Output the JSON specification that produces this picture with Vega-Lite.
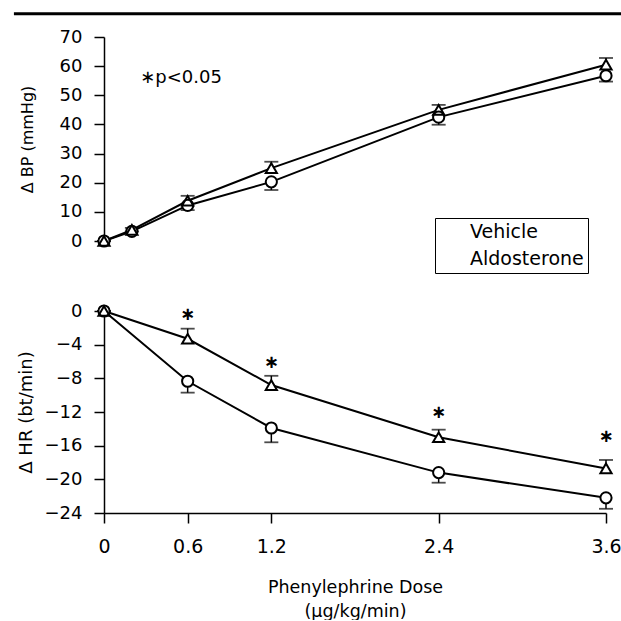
{
  "$schema": "https://vega.github.io/schema/vega-lite/v6.json",
  "padding": {"left": 12, "top": 12, "right": 0, "bottom": 0},
  "spacing": 27,
  "resolve": {"scale": {"shape": "independent"}, "legend": {"shape": "independent"}},
  "config": {
    "view": {"stroke": null},
    "font": "DejaVu Sans",
    "axis": {
      "grid": false,
      "domainColor": "black",
      "domainWidth": 1.5,
      "tickColor": "black",
      "tickWidth": 1.5,
      "labelColor": "black",
      "titleColor": "black",
      "labelFont": "DejaVu Sans",
      "titleFont": "DejaVu Sans",
      "titleFontWeight": "normal",
      "labelFlush": false,
      "labelOverlap": false
    }
  },
  "datasets": {
    "bp": [
      {"dose": 0, "group": "Vehicle", "value": 0, "err": 0},
      {"dose": 0.2, "group": "Vehicle", "value": 3.3, "err": 3.3},
      {"dose": 0.6, "group": "Vehicle", "value": 12.2, "err": 10.6},
      {"dose": 1.2, "group": "Vehicle", "value": 20.3, "err": 17.5},
      {"dose": 2.4, "group": "Vehicle", "value": 42.5, "err": 39.9},
      {"dose": 3.6, "group": "Vehicle", "value": 56.7, "err": 54.7},
      {"dose": 0, "group": "Aldosterone", "value": 0, "err": 0},
      {"dose": 0.2, "group": "Aldosterone", "value": 3.8, "err": 4.5},
      {"dose": 0.6, "group": "Aldosterone", "value": 13.8, "err": 15.5},
      {"dose": 1.2, "group": "Aldosterone", "value": 25, "err": 27.2},
      {"dose": 2.4, "group": "Aldosterone", "value": 45, "err": 46.7},
      {"dose": 3.6, "group": "Aldosterone", "value": 60.5, "err": 62.8}
    ],
    "hr": [
      {"dose": 0, "group": "Vehicle", "value": 0, "err": 0},
      {"dose": 0.6, "group": "Vehicle", "value": -8.35, "err": -9.7},
      {"dose": 1.2, "group": "Vehicle", "value": -13.9, "err": -15.6},
      {"dose": 2.4, "group": "Vehicle", "value": -19.2, "err": -20.4},
      {"dose": 3.6, "group": "Vehicle", "value": -22.2, "err": -23.5},
      {"dose": 0, "group": "Aldosterone", "value": 0, "err": 0},
      {"dose": 0.6, "group": "Aldosterone", "value": -3.3, "err": -2.1},
      {"dose": 1.2, "group": "Aldosterone", "value": -8.8, "err": -7.7},
      {"dose": 2.4, "group": "Aldosterone", "value": -15, "err": -14.1},
      {"dose": 3.6, "group": "Aldosterone", "value": -18.7, "err": -17.7}
    ],
    "sig": [
      {"dose": 0.6, "y": -0.45, "label": "∗"},
      {"dose": 1.2, "y": -6.2, "label": "∗"},
      {"dose": 2.4, "y": -12.1, "label": "∗"},
      {"dose": 3.6, "y": -15, "label": "∗"}
    ]
  },
  "vconcat": [
    {
      "width": 502,
      "height": 204,
      "layer": [
        {
          "data": {"values": [{"k": 1}]},
          "mark": {"type": "rule", "strokeWidth": 3, "color": "black"},
          "encoding": {
            "x": {"datum": -0.646, "type": "quantitative", "scale": {"domain": [0, 3.6], "nice": false, "zero": false}, "axis": null},
            "x2": {"datum": 3.72},
            "y": {"datum": 78, "type": "quantitative", "scale": {"domain": [0, 70], "nice": false},
              "axis": {"values": [0, 10, 20, 30, 40, 50, 60, 70], "title": "Δ BP (mmHg)", "titleFontSize": 16, "titleX": -69, "titleY": 102, "tickSize": 10, "labelPadding": 12, "labelFontSize": 18}}
          }
        },
        {
          "data": {"name": "bp"},
          "mark": {"type": "line", "color": "black", "strokeWidth": 2},
          "encoding": {
            "x": {"field": "dose", "type": "quantitative", "axis": null},
            "y": {"field": "value", "type": "quantitative",
              "axis": {"values": [0, 10, 20, 30, 40, 50, 60, 70], "title": "Δ BP (mmHg)", "titleFontSize": 16, "titleX": -69, "titleY": 102, "tickSize": 10, "labelPadding": 12, "labelFontSize": 18}},
            "detail": {"field": "group"}
          }
        },
        {
          "data": {"name": "bp"},
          "mark": {"type": "rule", "color": "black", "strokeWidth": 1.5},
          "encoding": {
            "x": {"field": "dose", "type": "quantitative", "axis": null},
            "y": {"field": "value", "type": "quantitative",
              "axis": {"values": [0, 10, 20, 30, 40, 50, 60, 70], "title": "Δ BP (mmHg)", "titleFontSize": 16, "titleX": -69, "titleY": 102, "tickSize": 10, "labelPadding": 12, "labelFontSize": 18}},
            "y2": {"field": "err"}
          }
        },
        {
          "data": {"name": "bp"},
          "mark": {"type": "tick", "orient": "horizontal", "color": "black", "size": 14, "thickness": 1.8},
          "encoding": {
            "x": {"field": "dose", "type": "quantitative", "axis": null},
            "y": {"field": "err", "type": "quantitative",
              "axis": {"values": [0, 10, 20, 30, 40, 50, 60, 70], "title": "Δ BP (mmHg)", "titleFontSize": 16, "titleX": -69, "titleY": 102, "tickSize": 10, "labelPadding": 12, "labelFontSize": 18}}
          }
        },
        {
          "data": {"name": "bp"},
          "mark": {"type": "point", "filled": true, "color": "white", "size": 125, "opacity": 1},
          "encoding": {
            "x": {"field": "dose", "type": "quantitative", "axis": null},
            "y": {"field": "value", "type": "quantitative",
              "axis": {"values": [0, 10, 20, 30, 40, 50, 60, 70], "title": "Δ BP (mmHg)", "titleFontSize": 16, "titleX": -69, "titleY": 102, "tickSize": 10, "labelPadding": 12, "labelFontSize": 18}},
            "shape": {"field": "group", "type": "nominal",
              "scale": {"domain": ["Vehicle", "Aldosterone"], "range": ["circle", "triangle-up"]},
              "legend": {"title": null, "orient": "none", "legendX": 331, "legendY": 181, "strokeColor": "black", "padding": 4,
                "labelFontSize": 19, "labelFont": "DejaVu Sans", "labelColor": "black", "symbolSize": 60,
                "symbolStrokeColor": "black", "symbolFillColor": "white", "symbolStrokeWidth": 1.5, "symbolOpacity": 1,
                "rowPadding": 7, "labelOffset": 12}}
          }
        },
        {
          "data": {"name": "bp"},
          "mark": {"type": "point", "filled": false, "color": "black", "strokeWidth": 2, "size": 125, "opacity": 1},
          "encoding": {
            "x": {"field": "dose", "type": "quantitative", "axis": null},
            "y": {"field": "value", "type": "quantitative",
              "axis": {"values": [0, 10, 20, 30, 40, 50, 60, 70], "title": "Δ BP (mmHg)", "titleFontSize": 16, "titleX": -69, "titleY": 102, "tickSize": 10, "labelPadding": 12, "labelFontSize": 18}},
            "shape": {"field": "group", "type": "nominal",
              "scale": {"domain": ["Vehicle", "Aldosterone"], "range": ["circle", "triangle-up"]},
              "legend": {"title": null, "orient": "none", "legendX": 331, "legendY": 181, "strokeColor": "black", "padding": 4,
                "labelFontSize": 19, "labelFont": "DejaVu Sans", "labelColor": "black", "symbolSize": 60,
                "symbolStrokeColor": "black", "symbolFillColor": "white", "symbolStrokeWidth": 1.5, "symbolOpacity": 1,
                "rowPadding": 7, "labelOffset": 12}}
          }
        },
        {
          "data": {"values": [{"dose": 0.26, "y": 56, "label": "∗p<0.05"}]},
          "mark": {"type": "text", "align": "left", "baseline": "middle", "fontSize": 18, "color": "black", "font": "DejaVu Sans"},
          "encoding": {
            "x": {"field": "dose", "type": "quantitative", "axis": null},
            "y": {"field": "y", "type": "quantitative",
              "axis": {"values": [0, 10, 20, 30, 40, 50, 60, 70], "title": "Δ BP (mmHg)", "titleFontSize": 16, "titleX": -69, "titleY": 102, "tickSize": 10, "labelPadding": 12, "labelFontSize": 18}},
            "text": {"field": "label"}
          }
        }
      ]
    },
    {
      "width": 502,
      "height": 202,
      "layer": [
        {
          "data": {"name": "hr"},
          "mark": {"type": "line", "color": "black", "strokeWidth": 2},
          "encoding": {
            "x": {"field": "dose", "type": "quantitative", "scale": {"domain": [0, 3.6], "nice": false, "zero": false},
              "axis": {"values": [0, 0.6, 1.2, 2.4, 3.6], "format": ".2~g", "title": ["Phenylephrine Dose", "(μg/kg/min)"], "titleFontSize": 17.5, "titleLineHeight": 24, "titlePadding": 22, "tickSize": 10, "labelPadding": 14, "labelFontSize": 19}},
            "y": {"field": "value", "type": "quantitative", "scale": {"domain": [-24, 0], "nice": false},
              "axis": {"values": [0, -4, -8, -12, -16, -20, -24], "title": "Δ HR (bt/min)", "titleFontSize": 18, "titleX": -69, "tickSize": 10, "labelPadding": 12, "labelFontSize": 18}},
            "detail": {"field": "group"}
          }
        },
        {
          "data": {"name": "hr"},
          "mark": {"type": "rule", "color": "black", "strokeWidth": 1.5},
          "encoding": {
            "x": {"field": "dose", "type": "quantitative",
              "axis": {"values": [0, 0.6, 1.2, 2.4, 3.6], "format": ".2~g", "title": ["Phenylephrine Dose", "(μg/kg/min)"], "titleFontSize": 17.5, "titleLineHeight": 24, "titlePadding": 22, "tickSize": 10, "labelPadding": 14, "labelFontSize": 19}},
            "y": {"field": "value", "type": "quantitative",
              "axis": {"values": [0, -4, -8, -12, -16, -20, -24], "title": "Δ HR (bt/min)", "titleFontSize": 18, "titleX": -69, "tickSize": 10, "labelPadding": 12, "labelFontSize": 18}},
            "y2": {"field": "err"}
          }
        },
        {
          "data": {"name": "hr"},
          "mark": {"type": "tick", "orient": "horizontal", "color": "black", "size": 14, "thickness": 1.8},
          "encoding": {
            "x": {"field": "dose", "type": "quantitative",
              "axis": {"values": [0, 0.6, 1.2, 2.4, 3.6], "format": ".2~g", "title": ["Phenylephrine Dose", "(μg/kg/min)"], "titleFontSize": 17.5, "titleLineHeight": 24, "titlePadding": 22, "tickSize": 10, "labelPadding": 14, "labelFontSize": 19}},
            "y": {"field": "err", "type": "quantitative",
              "axis": {"values": [0, -4, -8, -12, -16, -20, -24], "title": "Δ HR (bt/min)", "titleFontSize": 18, "titleX": -69, "tickSize": 10, "labelPadding": 12, "labelFontSize": 18}}
          }
        },
        {
          "data": {"name": "hr"},
          "mark": {"type": "point", "filled": true, "color": "white", "size": 125, "opacity": 1},
          "encoding": {
            "x": {"field": "dose", "type": "quantitative",
              "axis": {"values": [0, 0.6, 1.2, 2.4, 3.6], "format": ".2~g", "title": ["Phenylephrine Dose", "(μg/kg/min)"], "titleFontSize": 17.5, "titleLineHeight": 24, "titlePadding": 22, "tickSize": 10, "labelPadding": 14, "labelFontSize": 19}},
            "y": {"field": "value", "type": "quantitative",
              "axis": {"values": [0, -4, -8, -12, -16, -20, -24], "title": "Δ HR (bt/min)", "titleFontSize": 18, "titleX": -69, "tickSize": 10, "labelPadding": 12, "labelFontSize": 18}},
            "shape": {"field": "group", "type": "nominal",
              "scale": {"domain": ["Vehicle", "Aldosterone"], "range": ["circle", "triangle-up"]}, "legend": null}
          }
        },
        {
          "data": {"name": "hr"},
          "mark": {"type": "point", "filled": false, "color": "black", "strokeWidth": 2, "size": 125, "opacity": 1},
          "encoding": {
            "x": {"field": "dose", "type": "quantitative",
              "axis": {"values": [0, 0.6, 1.2, 2.4, 3.6], "format": ".2~g", "title": ["Phenylephrine Dose", "(μg/kg/min)"], "titleFontSize": 17.5, "titleLineHeight": 24, "titlePadding": 22, "tickSize": 10, "labelPadding": 14, "labelFontSize": 19}},
            "y": {"field": "value", "type": "quantitative",
              "axis": {"values": [0, -4, -8, -12, -16, -20, -24], "title": "Δ HR (bt/min)", "titleFontSize": 18, "titleX": -69, "tickSize": 10, "labelPadding": 12, "labelFontSize": 18}},
            "shape": {"field": "group", "type": "nominal",
              "scale": {"domain": ["Vehicle", "Aldosterone"], "range": ["circle", "triangle-up"]}, "legend": null}
          }
        },
        {
          "data": {"name": "sig"},
          "mark": {"type": "text", "align": "center", "baseline": "middle", "fontSize": 18, "fontWeight": "bold", "color": "black", "font": "DejaVu Sans"},
          "encoding": {
            "x": {"field": "dose", "type": "quantitative",
              "axis": {"values": [0, 0.6, 1.2, 2.4, 3.6], "format": ".2~g", "title": ["Phenylephrine Dose", "(μg/kg/min)"], "titleFontSize": 17.5, "titleLineHeight": 24, "titlePadding": 22, "tickSize": 10, "labelPadding": 14, "labelFontSize": 19}},
            "y": {"field": "y", "type": "quantitative",
              "axis": {"values": [0, -4, -8, -12, -16, -20, -24], "title": "Δ HR (bt/min)", "titleFontSize": 18, "titleX": -69, "tickSize": 10, "labelPadding": 12, "labelFontSize": 18}},
            "text": {"field": "label"}
          }
        }
      ]
    }
  ]
}
